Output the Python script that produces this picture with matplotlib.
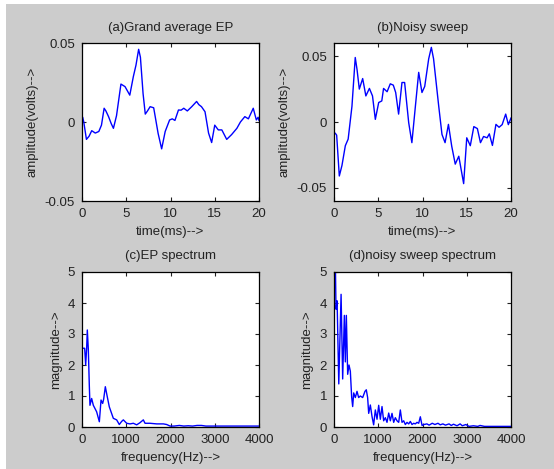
import matplotlib
matplotlib.use("Agg")
import matplotlib.pyplot as plt
from matplotlib.patches import Rectangle

# (a) grand average EP, time in ms / amplitude in volts
ep_t = [0.0, 0.08, 0.2, 0.5, 0.8, 1.1, 1.5, 1.9, 2.2, 2.5, 2.7, 3.0, 3.3, 3.55, 3.9,
        4.4, 4.86, 5.1, 5.4, 5.8, 6.1, 6.4, 6.6, 6.9, 7.15, 7.4, 7.7, 8.1, 8.6, 9.0,
        9.4, 9.9, 10.2, 10.5, 10.9, 11.2, 11.5, 11.9, 12.4, 12.95, 13.2, 13.5, 13.9,
        14.3, 14.65, 15.0, 15.4, 15.8, 16.35, 16.9, 17.5, 17.9, 18.4, 18.8, 19.35,
        19.7, 19.9, 20.0]
ep_v = [0.001, 0.003, 0.0, -0.011, -0.009, -0.0055, -0.007, -0.006, -0.002, 0.0087,
        0.007, 0.0034, -0.001, -0.004, 0.004, 0.024, 0.0224, 0.02, 0.017, 0.0287,
        0.036, 0.046, 0.041, 0.018, 0.005, 0.007, 0.0097, 0.009, -0.0072, -0.017,
        -0.006, 0.0013, 0.002, 0.001, 0.0076, 0.0075, 0.0087, 0.007, 0.0097, 0.013,
        0.011, 0.0097, 0.0065, -0.007, -0.013, -0.002, -0.005, -0.005, -0.011, -0.008,
        -0.004, 0.0, 0.0034, 0.002, 0.0087, 0.0013, 0.003, 0.001]

# (b) noisy sweep
ns_t = [0.0, 0.15, 0.3, 0.6, 0.9, 1.28, 1.6, 2.03, 2.4, 2.6, 2.86, 3.24, 3.6, 4.0,
        4.35, 4.67, 5.05, 5.4, 5.6, 6.0, 6.36, 6.7, 6.97, 7.3, 7.68, 7.98, 8.44, 8.8,
        9.2, 9.57, 9.94, 10.25, 10.7, 11.0, 11.25, 11.83, 12.2, 12.55, 12.93, 13.3,
        13.7, 14.1, 14.65, 15.0, 15.4, 15.8, 16.2, 16.55, 16.9, 17.3, 17.55, 17.9,
        18.3, 18.65, 19.0, 19.4, 19.7, 20.0]
ns_v = [-0.008, -0.0086, -0.01, -0.041, -0.033, -0.018, -0.013, 0.012, 0.049, 0.04,
        0.025, 0.033, 0.0198, 0.0255, 0.0198, 0.002, 0.0148, 0.016, 0.0255, 0.023,
        0.029, 0.028, 0.0224, 0.006, 0.030, 0.030, -0.0005, -0.0157, 0.0122, 0.0377,
        0.0224, 0.027, 0.048, 0.0567, 0.048, 0.0122, -0.0094, -0.0157, -0.0018,
        -0.0183, -0.032, -0.026, -0.0468, -0.012, -0.018, -0.0035, -0.005, -0.0157,
        -0.011, -0.012, -0.009, -0.0178, -0.0018, -0.004, -0.002, 0.006, -0.002, 0.003]

# (c) EP spectrum
ep_f = [0, 15, 60, 83, 105, 120, 143, 165, 180, 218, 256, 331, 392, 430, 467, 490,
        527, 572, 617, 708, 783, 843, 896, 934, 1010, 1085, 1160, 1236, 1311, 1386,
        1424, 1537, 1688, 1840, 1914, 1990, 2080, 2200, 2300, 2400, 2500, 2600, 2700,
        2800, 2900, 3000, 3200, 3400, 3600, 3800, 4000]
ep_m = [2.54, 2.54, 2.54, 2.0, 2.54, 3.13, 2.5, 1.35, 0.7, 0.92, 0.7, 0.49, 0.17,
        0.87, 0.76, 0.9, 1.3, 0.97, 0.65, 0.28, 0.23, 0.08, 0.18, 0.23, 0.12, 0.10,
        0.12, 0.07, 0.14, 0.23, 0.12, 0.12, 0.1, 0.1, 0.08, 0.03, 0.03, 0.05, 0.03,
        0.04, 0.03, 0.05, 0.05, 0.03, 0.03, 0.03, 0.03, 0.03, 0.03, 0.03, 0.03]

# (d) noisy sweep spectrum
ns_f = [0, 10, 30, 45, 70, 108, 160, 196, 234, 256, 279, 309, 339, 369, 399, 422,
        445, 482, 520, 557, 595, 648, 700, 730, 760, 784, 821, 859, 896, 934, 972,
        1010, 1047, 1085, 1122, 1160, 1198, 1236, 1273, 1311, 1349, 1386, 1424, 1462,
        1499, 1537, 1575, 1612, 1650, 1688, 1725, 1763, 1800, 1838, 1876, 1914, 1951,
        1990, 2030, 2100, 2150, 2220, 2280, 2350, 2400, 2460, 2520, 2600, 2650, 2700,
        2780, 2850, 2900, 2980, 3050, 3150, 3250, 3300, 3400, 3600, 3800, 4000]
ns_m = [2.5, 5.4, 5.4, 3.8, 4.07, 1.39, 4.28, 1.55, 3.6, 2.1, 3.6, 1.7, 2.0, 1.8,
        0.97, 0.66, 1.1, 0.95, 1.15, 0.95, 1.0, 0.95, 1.15, 1.2, 0.95, 0.44, 0.71,
        0.34, 0.07, 0.55, 0.25, 0.7, 0.25, 0.66, 0.2, 0.3, 0.15, 0.45, 0.2, 0.44,
        0.15, 0.3, 0.2, 0.15, 0.55, 0.15, 0.2, 0.08, 0.15, 0.1, 0.18, 0.08, 0.12,
        0.1, 0.15, 0.12, 0.33, 0.05, 0.08, 0.1, 0.06, 0.12, 0.08, 0.12, 0.07, 0.1,
        0.06, 0.1, 0.05, 0.09, 0.04, 0.1, 0.04, 0.08, 0.02, 0.04, 0.02, 0.05, 0.02,
        0.02, 0.02, 0.02]

plt.rcParams['font.family'] = ['Liberation Sans', 'DejaVu Sans']
plt.rcParams['font.size'] = 9

W, H = 554, 469
fig = plt.figure(figsize=(W / 100, H / 100), dpi=100, facecolor='white')
fig.patches.append(Rectangle((6 / W, 0), 1 - 6 / W, 1 - 4 / H, transform=fig.transFigure,
                             facecolor='#cccccc', edgecolor='none', zorder=-10))


def make_ax(px_left, px_top, px_w, px_h):
    ax = fig.add_axes([px_left / W, 1 - (px_top + px_h) / H, px_w / W, px_h / H])
    ax.set_facecolor('white')
    ax.tick_params(direction='in', length=3, width=0.8, top=True, right=True,
                   labelsize=9.5, colors='#222222', pad=5)
    for s in ax.spines.values():
        s.set_linewidth(0.9)
    return ax


specs = [
    (82, 43, ep_t, ep_v, '(a)Grand average EP', 'time(ms)-->', 'amplitude(volts)-->', -0.245),
    (334, 43, ns_t, ns_v, '(b)Noisy sweep', 'time(ms)-->', 'amplitude(volts)-->', -0.245),
    (82, 272, ep_f, ep_m, '(c)EP spectrum', 'frequency(Hz)-->', 'magnitude-->', -0.11),
    (334, 272, ns_f, ns_m, '(d)noisy sweep spectrum', 'frequency(Hz)-->', 'magnitude-->', -0.115),
]

for i, (xl, yt, xs, ys, title, xlab, ylab, ylx) in enumerate(specs):
    h = 158 if i < 2 else 155
    ax = make_ax(xl, yt, 177, h)
    ax.plot(xs, ys, color='#0000ff', lw=1.0)
    ax.set_title(title, fontsize=9.5, pad=9, color='#222222')
    ax.set_xlabel(xlab, fontsize=9.5, labelpad=4, color='#222222')
    ax.set_ylabel(ylab, fontsize=9.5, color='#222222')
    ax.yaxis.set_label_coords(ylx, 0.5)
    if i < 2:
        ax.set_xlim(0, 20)
        ax.set_xticks([0, 5, 10, 15, 20])
        ax.set_yticks([-0.05, 0, 0.05])
        ax.set_yticklabels(['-0.05', '0', '0.05'])
        if i == 0:
            ax.set_ylim(-0.05, 0.05)
        else:
            ax.set_ylim(-0.06, 0.06)
    else:
        ax.set_xlim(0, 4000)
        ax.set_ylim(0, 5)
        ax.set_xticks([0, 1000, 2000, 3000, 4000])
        ax.set_yticks([0, 1, 2, 3, 4, 5])

fig.savefig('out.png', dpi=100, facecolor=fig.get_facecolor())
